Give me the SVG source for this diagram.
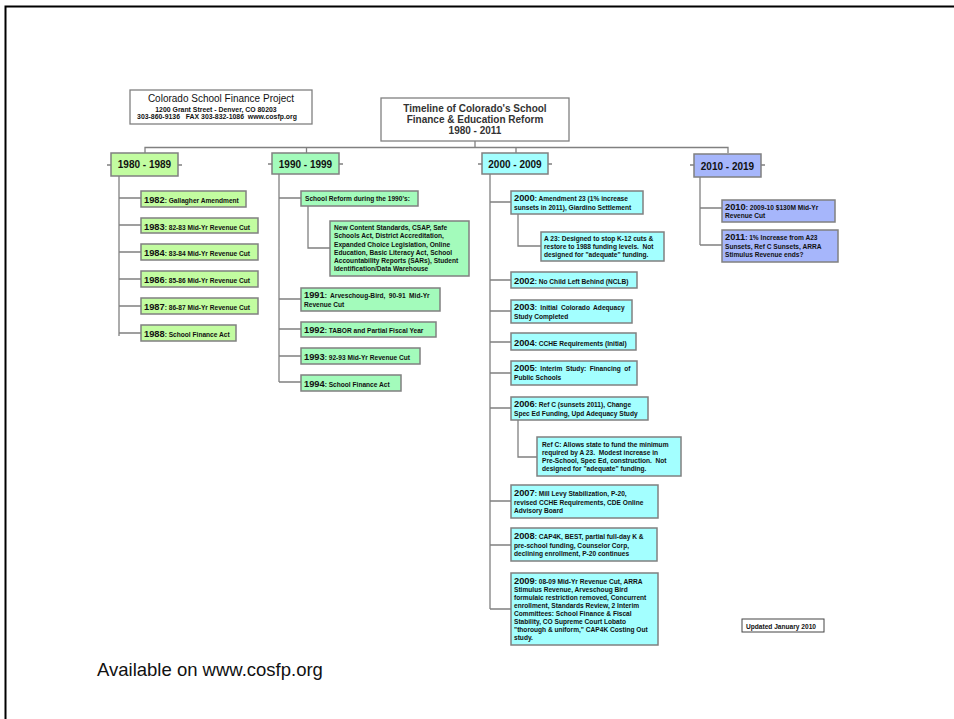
<svg xmlns="http://www.w3.org/2000/svg" width="954" height="719" viewBox="0 0 954 719">
<style>
.bx{stroke:#808080;stroke-width:1.5}
.g1{fill:#c2fca0}
.g2{fill:#a3fbbb}
.c3{fill:#a3ffff}
.p4{fill:#a6b6fb}
.cn{fill:none;stroke:#808080;stroke-width:1.3}
text{font-family:"Liberation Sans",Arial,sans-serif;fill:#111}
.d{font-size:6.6px;font-weight:bold}
.yr{font-size:9.3px;font-weight:bold}
.hd{font-size:10px;font-weight:bold}
.tt{font-size:10px;font-weight:bold;fill:#333}
</style>
<rect x="0" y="0" width="954" height="719" fill="#ffffff"/>
<path d="M5.5,719 V6.5 H954" fill="none" stroke="#000" stroke-width="2"/>

<g id="connectors">
  <path class="cn" d="M475,141 V147.5 M145,153 V147.5 H728 V153 M306.5,147.5 V153 M516,147.5 V153"/>
  <path class="cn" d="M107,165 H111 M178,165 H182 M268,164 H272 M339,164 H343 M478,164 H482 M548,164 H552 M690,165 H694 M761,165 H765"/>
  <path class="cn" d="M119,176 V336 M119,198 H141 M119,225 H141 M119,252 H141 M119,279 H141 M119,306 H141 M119,333 H141"/>
  <path class="cn" d="M279,174 V382 M279,198 H301 M308,206 V248 H330 M279,299 H301 M279,329 H301 M279,356 H301 M279,382 H301"/>
  <path class="cn" d="M490,174 V609 M490,202 H511 M518,214 V246 H541 M490,280 H511 M490,311 H511 M490,342 H511 M490,373 H511 M490,408 H511 M518,420 V457 H537 M490,501 H511 M490,545 H511 M490,609 H511"/>
  <path class="cn" d="M700,176 V245 M700,208 H722 M700,245 H722"/>
</g>

<g id="org-header">
  <rect x="130" y="90" width="182" height="34" fill="#fff" stroke="#808080" stroke-width="1.3"/>
  <text x="221" y="102" text-anchor="middle" font-size="10">Colorado School Finance Project</text>
  <text x="216" y="111.5" text-anchor="middle" font-size="6.9" font-weight="bold">1200 Grant Street - Denver, CO 80203</text>
  <text x="217" y="119" text-anchor="middle" font-size="6.9" font-weight="bold" xml:space="preserve">303-860-9136   FAX 303-832-1086  www.cosfp.org</text>
</g>

<g id="title">
  <rect x="381" y="98" width="188" height="43" fill="#fff" stroke="#808080" stroke-width="1.3"/>
  <text class="tt" x="475" y="112" text-anchor="middle">Timeline of Colorado's School</text>
  <text class="tt" x="475" y="123" text-anchor="middle">Finance &amp; Education Reform</text>
  <text class="tt" x="475" y="134" text-anchor="middle">1980 - 2011</text>
</g>

<!-- 1980s -->
<g id="d1980"><rect class="bx g1" x="111" y="153" width="67" height="23"/><text class="hd" x="144.5" y="168" text-anchor="middle">1980 - 1989</text></g>
<g id="y1982"><rect class="bx g1" x="141" y="191" width="105" height="16"/><text class="d" x="144" y="203"><tspan class="yr">1982</tspan>: Gallagher Amendment</text></g>
<g id="y1983"><rect class="bx g1" x="141" y="218" width="117" height="15"/><text class="d" x="144" y="229.5"><tspan class="yr">1983</tspan>: 82-83 Mid-Yr Revenue Cut</text></g>
<g id="y1984"><rect class="bx g1" x="141" y="244" width="117" height="16"/><text class="d" x="144" y="256"><tspan class="yr">1984</tspan>: 83-84 Mid-Yr Revenue Cut</text></g>
<g id="y1986"><rect class="bx g1" x="141" y="271" width="117" height="16"/><text class="d" x="144" y="283"><tspan class="yr">1986</tspan>: 85-86 Mid-Yr Revenue Cut</text></g>
<g id="y1987"><rect class="bx g1" x="141" y="298" width="117" height="16"/><text class="d" x="144" y="310"><tspan class="yr">1987</tspan>: 86-87 Mid-Yr Revenue Cut</text></g>
<g id="y1988"><rect class="bx g1" x="141" y="325" width="95" height="16"/><text class="d" x="144" y="337"><tspan class="yr">1988</tspan>: School Finance Act</text></g>

<!-- 1990s -->
<g id="d1990"><rect class="bx g2" x="272" y="153" width="67" height="21"/><text class="hd" x="305.5" y="167.5" text-anchor="middle">1990 - 1999</text></g>
<g id="reform90"><rect class="bx g2" x="301" y="191" width="117" height="15"/><text class="d" x="305" y="201">School Reform during the 1990's:</text></g>
<g id="reform90list"><rect class="bx g2" x="330" y="221" width="139" height="55"/>
  <text class="d"><tspan x="334" y="230">New Content Standards, CSAP, Safe</tspan><tspan x="334" y="238">Schools Act, District Accreditation,</tspan><tspan x="334" y="246.5">Expanded Choice Legislation, Online</tspan><tspan x="334" y="254.5">Education, Basic Literacy Act, School</tspan><tspan x="334" y="262.5">Accountability Reports (SARs), Student</tspan><tspan x="334" y="270.5">Identification/Data Warehouse</tspan></text></g>
<g id="y1991"><rect class="bx g2" x="301" y="288" width="139" height="23"/><text class="d" word-spacing="1.6"><tspan x="304" y="298"><tspan class="yr">1991</tspan>: Arveschoug-Bird, 90-91 Mid-Yr</tspan><tspan x="304" y="306.5" word-spacing="0">Revenue Cut</tspan></text></g>
<g id="y1992"><rect class="bx g2" x="301" y="322" width="135" height="15"/><text class="d" x="304" y="333"><tspan class="yr">1992</tspan>: TABOR and Partial Fiscal Year</text></g>
<g id="y1993"><rect class="bx g2" x="301" y="348" width="119" height="16"/><text class="d" x="304" y="360"><tspan class="yr">1993</tspan>: 92-93 Mid-Yr Revenue Cut</text></g>
<g id="y1994"><rect class="bx g2" x="301" y="375" width="100" height="16"/><text class="d" x="304" y="387"><tspan class="yr">1994</tspan>: School Finance Act</text></g>

<!-- 2000s -->
<g id="d2000"><rect class="bx c3" x="482" y="153" width="66" height="21"/><text class="hd" x="515" y="167.5" text-anchor="middle">2000 - 2009</text></g>
<g id="y2000"><rect class="bx c3" x="511" y="191" width="132" height="23"/><text class="d"><tspan x="514" y="201"><tspan class="yr">2000</tspan>: Amendment 23 (1% increase</tspan><tspan x="514" y="209.5">sunsets in 2011), Giardino Settlement</tspan></text></g>
<g id="a23"><rect class="bx c3" x="541" y="232" width="123" height="29"/><text class="d" xml:space="preserve"><tspan x="544" y="241">A 23: Designed to stop K-12 cuts &amp;</tspan><tspan x="544" y="249">restore to 1988 funding levels.  Not</tspan><tspan x="544" y="257">designed for "adequate" funding.</tspan></text></g>
<g id="y2002"><rect class="bx c3" x="511" y="272" width="126" height="16"/><text class="d" x="514" y="284"><tspan class="yr">2002</tspan>: No Child Left Behind (NCLB)</text></g>
<g id="y2003"><rect class="bx c3" x="511" y="300" width="121" height="23"/><text class="d" word-spacing="1.6"><tspan x="514" y="310"><tspan class="yr">2003</tspan>: Initial Colorado Adequacy</tspan><tspan x="514" y="318.5" word-spacing="0">Study Completed</tspan></text></g>
<g id="y2004"><rect class="bx c3" x="511" y="333" width="125" height="17"/><text class="d" x="514" y="345.5"><tspan class="yr">2004</tspan>: CCHE Requirements (Initial)</text></g>
<g id="y2005"><rect class="bx c3" x="511" y="361" width="126" height="24"/><text class="d" word-spacing="1.6"><tspan x="514" y="371"><tspan class="yr">2005</tspan>: Interim Study: Financing of</tspan><tspan x="514" y="380" word-spacing="0">Public Schools</tspan></text></g>
<g id="y2006"><rect class="bx c3" x="511" y="397" width="137" height="23"/><text class="d"><tspan x="514" y="407"><tspan class="yr">2006</tspan>: Ref C (sunsets 2011), Change</tspan><tspan x="514" y="415.5">Spec Ed Funding, Upd Adequacy Study</tspan></text></g>
<g id="refc"><rect class="bx c3" x="537" y="437" width="144" height="39"/><text class="d" xml:space="preserve"><tspan x="542" y="447">Ref C: Allows state to fund the minimum</tspan><tspan x="542" y="455">required by A 23.  Modest increase in</tspan><tspan x="542" y="463">Pre-School, Spec Ed, construction.  Not</tspan><tspan x="542" y="471">designed for "adequate" funding.</tspan></text></g>
<g id="y2007"><rect class="bx c3" x="511" y="485" width="147" height="33"/><text class="d"><tspan x="514" y="496"><tspan class="yr">2007</tspan>: Mill Levy Stabilization, P-20,</tspan><tspan x="514" y="504.5">revised CCHE Requirements, CDE Online</tspan><tspan x="514" y="512.5">Advisory Board</tspan></text></g>
<g id="y2008"><rect class="bx c3" x="511" y="528" width="146" height="33"/><text class="d"><tspan x="514" y="539"><tspan class="yr">2008</tspan>: CAP4K, BEST, partial full-day K &amp;</tspan><tspan x="514" y="547.5">pre-school funding, Counselor Corp,</tspan><tspan x="514" y="555.5">declining enrollment, P-20 continues</tspan></text></g>
<g id="y2009"><rect class="bx c3" x="511" y="573" width="147" height="72"/><text class="d"><tspan x="514" y="583.5"><tspan class="yr">2009</tspan>: 08-09 Mid-Yr Revenue Cut, ARRA</tspan><tspan x="514" y="592">Stimulus Revenue, Arveschoug Bird</tspan><tspan x="514" y="600">formulaic restriction removed, Concurrent</tspan><tspan x="514" y="608">enrollment, Standards Review, 2 Interim</tspan><tspan x="514" y="616">Committees: School Finance &amp; Fiscal</tspan><tspan x="514" y="624">Stability, CO Supreme Court Lobato</tspan><tspan x="514" y="632">"thorough &amp; uniform," CAP4K Costing Out</tspan><tspan x="514" y="640">study.</tspan></text></g>

<!-- 2010s -->
<g id="d2010"><rect class="bx p4" x="694" y="154" width="67" height="23"/><text class="hd" x="727.5" y="169.5" text-anchor="middle">2010 - 2019</text></g>
<g id="y2010"><rect class="bx p4" x="722" y="200" width="113" height="22"/><text class="d"><tspan x="725" y="209.5"><tspan class="yr">2010</tspan>: 2009-10 $130M Mid-Yr</tspan><tspan x="725" y="218">Revenue Cut</tspan></text></g>
<g id="y2011"><rect class="bx p4" x="722" y="230" width="116" height="32"/><text class="d"><tspan x="725" y="240"><tspan class="yr">2011</tspan>: 1% Increase from A23</tspan><tspan x="725" y="248.5">Sunsets, Ref C Sunsets, ARRA</tspan><tspan x="725" y="256.5">Stimulus Revenue ends?</tspan></text></g>

<g id="updated"><rect x="742" y="619" width="82" height="13" fill="#fff" stroke="#444" stroke-width="1"/><text class="d" x="746" y="628.5">Updated January 2010</text></g>
<text x="97" y="676" font-size="18.5" fill="#111">Available on www.cosfp.org</text>
</svg>
